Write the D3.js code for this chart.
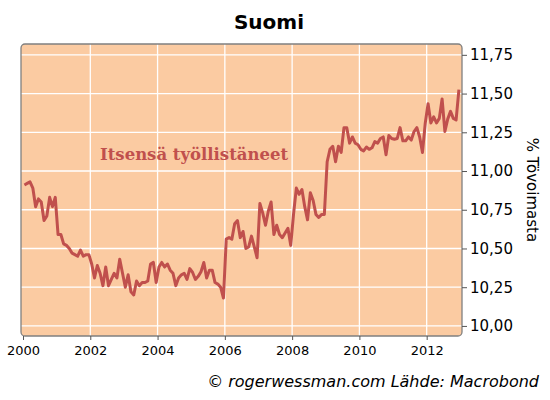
<!DOCTYPE html>
<html><head><meta charset="utf-8">
<script src="https://cdn.jsdelivr.net/npm/d3@7"></script>
<style>body{margin:0;background:#fff}svg{display:block}</style>
</head><body>
<svg id="c" width="550" height="400"></svg>
<script>
const title = "Suomi";
const seriesName = "Itsensä työllistäneet";
const yAxisTitle = "% Tövoimasta";
const sourceText = "© rogerwessman.com Lähde: Macrobond";
const startYear = 2000;
const yTicks = [10.00, 10.25, 10.50, 10.75, 11.00, 11.25, 11.50, 11.75];
const xTicks = [2000, 2002, 2004, 2006, 2008, 2010, 2012];
// monthly values Jan 2000 .. Dec 2012
const values = [
  10.91,10.92,10.93,10.89,10.77,10.82,10.80,10.68,10.71,10.83,10.77,10.83,
  10.59,10.59,10.53,10.52,10.50,10.47,10.46,10.45,10.49,10.45,10.46,10.46,
  10.40,10.31,10.39,10.34,10.26,10.38,10.26,10.30,10.34,10.31,10.43,10.34,
  10.25,10.33,10.22,10.20,10.29,10.26,10.28,10.28,10.29,10.40,10.41,10.28,
  10.38,10.41,10.38,10.40,10.36,10.34,10.26,10.31,10.33,10.34,10.30,10.37,
  10.345,10.30,10.32,10.35,10.41,10.31,10.36,10.36,10.28,10.27,10.25,10.18,
  10.56,10.57,10.56,10.66,10.68,10.57,10.61,10.50,10.51,10.58,10.51,10.44,
  10.79,10.73,10.65,10.74,10.80,10.59,10.65,10.59,10.57,10.60,10.63,10.52,
  10.72,10.89,10.85,10.88,10.77,10.685,10.86,10.81,10.72,10.70,10.72,10.72,
  11.06,11.14,11.16,11.06,11.16,11.12,11.28,11.28,11.18,11.22,11.18,11.17,
  11.14,11.13,11.155,11.14,11.15,11.19,11.18,11.21,11.22,11.105,11.23,11.21,
  11.205,11.21,11.28,11.195,11.195,11.22,11.20,11.255,11.28,11.22,11.12,11.31,
  11.435,11.31,11.35,11.31,11.34,11.465,11.255,11.335,11.385,11.34,11.33,11.525
];
const data = values.map((v,i)=>({t: startYear + (i+0.5)/12, v}));

const svg = d3.select("#c");
const L = 21, R = 462, T = 44, B = 336;
const x = d3.scaleLinear().domain([1999.94, 2013.05]).range([L, R]);
const y = d3.scaleLinear().domain([9.935, 11.82]).range([B, T]);

svg.append("text").attr("x", 269).attr("y", 29).attr("text-anchor","middle")
  .attr("font-family","DejaVu Sans, Verdana, sans-serif").attr("font-weight","bold")
  .attr("font-size", 20).attr("fill","#000").text(title);

svg.append("rect").attr("x",L).attr("y",T).attr("width",R-L).attr("height",B-T)
  .attr("rx",4).attr("fill","#FBCBA2");

const g = svg.append("g");
g.selectAll(".hg").data(yTicks).join("line")
  .attr("x1",L).attr("x2",R).attr("y1",d=>y(d)).attr("y2",d=>y(d))
  .attr("stroke","#fff").attr("stroke-width",1.3);
g.selectAll(".vg").data(xTicks.slice(1)).join("line")
  .attr("y1",T).attr("y2",B).attr("x1",d=>x(d)).attr("x2",d=>x(d))
  .attr("stroke","#fff").attr("stroke-width",1.3);

svg.append("rect").attr("x",L).attr("y",T).attr("width",R-L).attr("height",B-T)
  .attr("rx",4).attr("fill","none").attr("stroke","#808080").attr("stroke-width",1.3);

svg.append("text").attr("x",100).attr("y",160)
  .attr("font-family","DejaVu Serif, Georgia, serif").attr("font-weight","bold")
  .attr("font-size",16.5).attr("fill","#C0504D").text(seriesName);

const line = d3.line().x(d=>x(d.t)).y(d=>y(d.v));
svg.append("path").datum(data).attr("d",line).attr("fill","none")
  .attr("stroke","#C0504D").attr("stroke-width",3).attr("stroke-linejoin","round");

const fmt = d => d3.format(".2f")(d).replace(".", ",");
const ya = svg.append("g").attr("transform",`translate(${R},0)`)
  .call(d3.axisRight(y).tickValues(yTicks).tickFormat(fmt).tickSize(5).tickPadding(3));
ya.select(".domain").remove();
ya.selectAll("line").attr("stroke","#555");
ya.selectAll("text").attr("font-family","DejaVu Sans, Verdana, sans-serif").attr("font-size",15).attr("fill","#000");

const xa = svg.append("g").attr("transform",`translate(0,${B})`)
  .call(d3.axisBottom(x).tickValues(xTicks).tickFormat(d3.format("d")).tickSize(4).tickPadding(6));
xa.select(".domain").remove();
xa.selectAll("line").attr("stroke","#555");
xa.selectAll("text").attr("font-family","DejaVu Sans, Verdana, sans-serif").attr("font-size",13).attr("fill","#000");

svg.append("text").attr("transform","translate(527,190) rotate(90)").attr("text-anchor","middle")
  .attr("font-family","DejaVu Sans, Verdana, sans-serif").attr("font-size",15).attr("fill","#000")
  .text(yAxisTitle);

svg.append("text").attr("x",539).attr("y",387).attr("text-anchor","end")
  .attr("font-family","DejaVu Sans, Verdana, sans-serif").attr("font-style","italic")
  .attr("font-size",16).attr("fill","#000").text(sourceText);
</script>
</body></html>
